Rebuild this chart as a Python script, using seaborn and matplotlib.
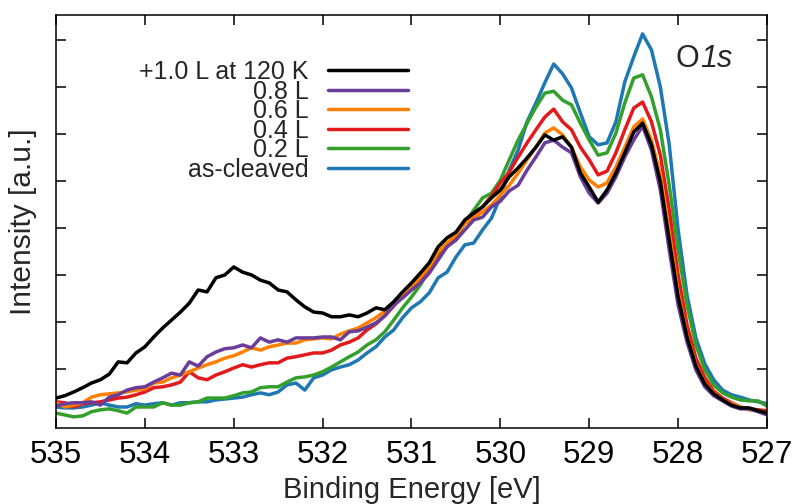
import numpy as np
import pandas as pd
import matplotlib
matplotlib.use('Agg')
import matplotlib.pyplot as plt
import seaborn as sns

# binding energy grid (eV), 535 -> 527 in 0.1 eV steps
energy = np.round(np.linspace(535.0, 527.0, 81), 1)

# O1s intensities (a.u.)
dose_10 = [0.38, 0.43, 0.51, 0.60, 0.70, 0.77, 0.89, 1.15, 1.13, 1.34,
           1.47, 1.68, 1.87, 2.04, 2.21, 2.40, 2.68, 2.64, 2.94, 3.00,
           3.17, 3.06, 3.00, 2.89, 2.83, 2.68, 2.64, 2.47, 2.32, 2.21,
           2.19, 2.11, 2.11, 2.15, 2.11, 2.19, 2.30, 2.26, 2.43, 2.64,
           2.83, 3.04, 3.26, 3.60, 3.79, 3.91, 4.17, 4.32, 4.45, 4.64,
           4.81, 5.09, 5.28, 5.49, 5.72, 5.98, 5.87, 5.94, 5.72, 5.17,
           4.87, 4.55, 4.81, 5.17, 5.60, 6.04, 6.23, 5.77, 4.98, 3.74,
           2.53, 1.68, 1.06, 0.68, 0.47, 0.34, 0.23, 0.17, 0.17, 0.11,
           0.06]
dose_08 = [0.21, 0.26, 0.28, 0.28, 0.30, 0.23, 0.40, 0.45, 0.55, 0.60,
           0.62, 0.72, 0.81, 0.91, 0.87, 1.15, 1.06, 1.26, 1.36, 1.43,
           1.45, 1.51, 1.45, 1.66, 1.57, 1.62, 1.57, 1.66, 1.66, 1.66,
           1.68, 1.68, 1.62, 1.79, 1.81, 1.89, 1.98, 2.13, 2.36, 2.51,
           2.68, 2.83, 3.04, 3.32, 3.60, 3.74, 3.96, 4.17, 4.23, 4.45,
           4.57, 4.79, 4.91, 5.23, 5.51, 5.81, 5.87, 5.72, 5.60, 5.09,
           4.74, 4.53, 4.74, 5.09, 5.51, 5.87, 6.17, 5.66, 4.81, 3.53,
           2.36, 1.57, 0.98, 0.62, 0.43, 0.32, 0.21, 0.15, 0.15, 0.09,
           0.02]
dose_06 = [0.28, 0.19, 0.23, 0.28, 0.40, 0.45, 0.47, 0.49, 0.51, 0.55,
           0.57, 0.70, 0.72, 0.81, 0.87, 0.94, 1.02, 1.09, 1.15, 1.23,
           1.28, 1.36, 1.45, 1.40, 1.47, 1.51, 1.55, 1.55, 1.62, 1.64,
           1.66, 1.64, 1.74, 1.81, 1.87, 1.98, 2.09, 2.23, 2.40, 2.60,
           2.74, 2.96, 3.17, 3.49, 3.68, 3.85, 4.09, 4.21, 4.34, 4.49,
           4.70, 4.91, 5.17, 5.45, 5.72, 6.02, 6.13, 5.98, 5.72, 5.30,
           5.02, 4.87, 4.96, 5.30, 5.72, 6.15, 6.32, 5.87, 5.13, 3.91,
           2.64, 1.72, 1.09, 0.70, 0.49, 0.34, 0.26, 0.19, 0.13, 0.11,
           0.06]
dose_04 = [0.30, 0.28, 0.19, 0.26, 0.28, 0.30, 0.34, 0.38, 0.40, 0.45,
           0.51, 0.60, 0.62, 0.66, 0.72, 0.94, 0.81, 0.77, 0.87, 0.94,
           1.02, 1.09, 1.04, 1.09, 1.13, 1.13, 1.23, 1.26, 1.30, 1.34,
           1.34, 1.40, 1.51, 1.57, 1.66, 1.83, 1.96, 2.13, 2.34, 2.55,
           2.72, 2.94, 3.15, 3.47, 3.64, 3.85, 4.13, 4.28, 4.45, 4.68,
           4.96, 5.19, 5.51, 5.81, 6.09, 6.36, 6.53, 6.26, 6.09, 5.72,
           5.45, 5.13, 5.21, 5.60, 6.09, 6.55, 6.68, 6.26, 5.55, 4.38,
           3.00, 1.94, 1.23, 0.81, 0.53, 0.38, 0.28, 0.19, 0.15, 0.13,
           0.11]
dose_02 = [0.06, 0.02, -0.02, 0.00, 0.09, 0.13, 0.15, 0.11, 0.06, 0.19,
           0.19, 0.19, 0.28, 0.23, 0.23, 0.28, 0.30, 0.38, 0.38, 0.38,
           0.43, 0.49, 0.51, 0.60, 0.62, 0.62, 0.72, 0.81, 0.83, 0.87,
           0.94, 1.04, 1.15, 1.26, 1.36, 1.51, 1.62, 1.79, 2.04, 2.30,
           2.53, 2.79, 3.11, 3.38, 3.60, 3.81, 4.11, 4.38, 4.64, 4.74,
           5.02, 5.45, 5.87, 6.23, 6.57, 6.87, 6.91, 6.72, 6.62, 6.23,
           5.87, 5.55, 5.60, 6.02, 6.66, 7.19, 7.26, 6.79, 6.09, 4.91,
           3.53, 2.36, 1.51, 0.98, 0.66, 0.49, 0.40, 0.34, 0.32, 0.32,
           0.21]
cleaved = [0.19, 0.17, 0.17, 0.19, 0.23, 0.28, 0.23, 0.19, 0.19, 0.26,
           0.23, 0.26, 0.28, 0.23, 0.28, 0.28, 0.30, 0.30, 0.34, 0.36,
           0.38, 0.40, 0.45, 0.49, 0.45, 0.51, 0.66, 0.70, 0.55, 0.81,
           0.87, 0.98, 1.04, 1.09, 1.19, 1.34, 1.47, 1.68, 1.83, 2.09,
           2.30, 2.43, 2.62, 2.94, 3.06, 3.38, 3.64, 3.68, 3.96, 4.21,
           4.66, 5.23, 5.66, 6.26, 6.66, 7.09, 7.49, 7.28, 6.98, 6.45,
           5.94, 5.77, 5.81, 6.26, 7.11, 7.64, 8.13, 7.79, 7.00, 5.77,
           3.96, 2.57, 1.66, 1.11, 0.77, 0.55, 0.45, 0.40, 0.34, 0.30,
           0.26]

labels = ['+1.0 L at 120 K', '0.8 L', '0.6 L', '0.4 L', '0.2 L', 'as-cleaved']
series = [dose_10, dose_08, dose_06, dose_04, dose_02, cleaved]

pal = sns.color_palette('Paired')
colors = {'+1.0 L at 120 K': 'black', '0.8 L': pal[9], '0.6 L': pal[7],
          '0.4 L': pal[5], '0.2 L': pal[3], 'as-cleaved': pal[1]}

df = pd.concat([pd.DataFrame({'energy': energy, 'intensity': s, 'sample': lab})
                for lab, s in zip(labels, series)], ignore_index=True)

sns.set_theme(style='ticks')
plt.rcParams['font.family'] = ['Liberation Sans', 'DejaVu Sans']

fig = plt.figure(figsize=(7.94, 5.04), dpi=100)
ax = fig.add_axes([0.0705, 0.151, 0.8955, 0.819])

# draw as-cleaved first so the black curve ends up on top
sns.lineplot(data=df, x='energy', y='intensity', hue='sample',
             hue_order=labels[::-1], palette=colors, linewidth=2.5,
             ax=ax, legend=True)

ax.set_xlim(535, 527)
ax.set_ylim(-0.255, 8.53)
ax.set_xticks(range(527, 536))
ax.set_yticks(range(1, 9))
ax.set_yticklabels([])
ax.tick_params(direction='in', top=True, right=True, length=7, width=1.1,
               labelsize=22.5, pad=9, colors='black')
for sp in ax.spines.values():
    sp.set_linewidth(1.1)
    sp.set_color('black')

ax.set_xlabel('Binding Energy [eV]', fontsize=21, labelpad=4)
ax.set_ylabel('Intensity [a.u.]', fontsize=21.5, labelpad=5)

handles, labs = ax.get_legend_handles_labels()
ax.legend(handles[::-1], labs[::-1], loc='upper right',
          bbox_to_anchor=(0.495, 0.891), frameon=False, markerfirst=False,
          fontsize=18, handlelength=3.2, handletextpad=0.76,
          labelspacing=-0.18, borderpad=0, borderaxespad=0)

# "O" upright, "1s" italic
ax.text(0.9044, 0.893, 'O', transform=ax.transAxes,
        fontsize=22, ha='right', va='center')
ax.text(0.9058, 0.893, '1s', transform=ax.transAxes,
        fontsize=22, ha='left', va='center', style='italic')

fig.savefig('out.png', dpi=100)
